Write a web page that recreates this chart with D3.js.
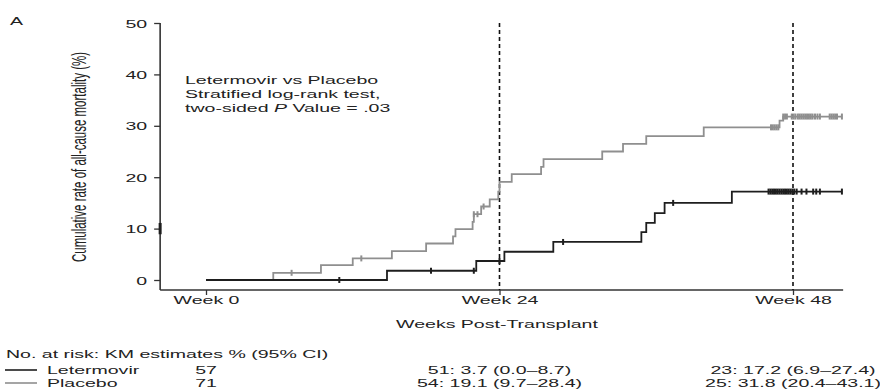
<!DOCTYPE html>
<html>
<head>
<meta charset="utf-8">
<script src="https://cdn.jsdelivr.net/npm/d3@7"></script>
<style>
  body { margin: 0; background: #fff; }
  svg text { font-family: "Liberation Sans", Arial, sans-serif; font-size: 11.5px; fill: #222; }
</style>
</head>
<body>
<div id="chart"></div>
<script>
// KM step data (weeks, cumulative %)
var letTimes  = [0, 14.8, 22.1, 24.4, 28.4, 35.6, 36.0, 36.7, 37.5, 43.0, 52.0]
var letValues = [0, 1.8, 3.7, 5.5, 7.4, 9.3, 11.1, 13.0, 15.0, 17.2, 17.2]
var plaTimes  = [0, 5.5, 9.4, 12.0, 15.2, 18.0, 20.2, 20.4, 21.8, 21.9, 22.5, 23.2, 23.9, 24.0, 25.0, 27.4, 27.6, 32.4, 34.1, 36.0, 40.7, 46.9, 47.2, 52.0]
var plaValues = [0, 1.4, 2.9, 4.2, 5.6, 7.1, 8.5, 9.9, 11.3, 12.8, 14.3, 15.7, 17.2, 19.1, 20.6, 22.0, 23.5, 25.0, 26.5, 28.0, 29.7, 31.0, 31.8, 31.8]
// censor ticks (weeks)
var letCensor = [10.9, 18.4, 21.9, 24.0, 29.2, 38.2,
  46.0, 46.15, 46.3, 46.45, 46.6, 46.75, 46.9, 47.05, 47.2, 47.35, 47.5, 47.65, 47.8, 47.95, 48.1,
  48.3, 48.7, 49.1, 49.65, 49.9, 50.2, 52.0]
var plaCensor = [7.0, 12.7, 21.9, 22.2, 22.7,
  46.2, 46.35, 46.5, 46.65, 46.8,
  47.2, 47.35, 47.5, 47.9, 48.05, 48.2, 48.4, 48.55, 48.7, 48.85, 49.0, 49.15, 49.3, 49.45, 49.6,
  49.8, 50.0, 50.2, 51.0, 51.15, 51.3, 51.45, 51.6, 52.0]

var yTicks = [0, 10, 20, 30, 40, 50]
var xTicks = [0, 24, 48]
var landmarks = [24, 48]

var riskHeader = "No. at risk: KM estimates % (95% CI)"
var groups = ["Letermovir", "Placebo"]
var riskLet = ["57", "51: 3.7 (0.0\u20138.7)", "23: 17.2 (6.9\u201327.4)"]
var riskPla = ["71", "54: 19.1 (9.7\u201328.4)", "25: 31.8 (20.4\u201343.1)"]

var w = 880, h = 389
var SX = 1.7 // the figure is stretched sideways, text too
var darkCol = '#1e1e1e', greyCol = '#8f8f8f', axisCol = '#333'

var x = d3.scaleLinear().domain([0, 48]).range([206, 793])
var y = d3.scaleLinear().domain([0, 50]).range([280, 23])
var axisY = 290
var xLeft = x(-3.75), xRight = x(52.1)

var svg = d3.select('#chart').append('svg').attr('width', w).attr('height', h)

function txt(g, px, py, s, anchor){
  return g.append('text')
    .attr('transform', 'translate(' + px + ',' + py + ') scale(' + SX + ',1)')
    .attr('text-anchor', anchor || 'start')
    .text(s)
}

// panel letter
txt(svg, 10, 25, 'A')

// y axis
var yg = svg.append('g').attr('transform', 'translate(' + xLeft + ',0)')
  .call(d3.axisLeft(y).tickValues(yTicks).tickSize(6).tickSizeOuter(0))
yg.select('.domain').remove()
yg.selectAll('line').attr('stroke', axisCol).attr('stroke-width', 1.3)
yg.selectAll('text')
  .attr('x', -13 / SX).attr('dy', '0.36em')
  .attr('transform', 'scale(' + SX + ',1)')
  .attr('fill', '#222').style('font-size', '11.5px')
  .style('font-family', '"Liberation Sans", Arial, sans-serif')

svg.append('line')
  .attr('x1', xLeft).attr('x2', xLeft).attr('y1', y(50)).attr('y2', axisY)
  .attr('stroke', axisCol).attr('stroke-width', 1.6)
// stray thick mark on the axis at 10%
svg.append('line')
  .attr('x1', xLeft).attr('x2', xLeft).attr('y1', y(11.1)).attr('y2', y(8.9))
  .attr('stroke', darkCol).attr('stroke-width', 3)

// x axis
var xg = svg.append('g').attr('transform', 'translate(0,' + axisY + ')')
  .call(d3.axisBottom(x).tickValues(xTicks).tickSize(5).tickSizeOuter(0)
    .tickFormat(function(d){ return 'Week ' + d }))
xg.select('.domain').remove()
xg.selectAll('line').attr('stroke', axisCol).attr('stroke-width', 1.3)
xg.selectAll('text')
  .attr('y', 14).attr('dy', 0)
  .attr('transform', 'scale(' + SX + ',1)')
  .attr('x', 0)
  .attr('fill', '#222').style('font-size', '11.5px')
  .style('font-family', '"Liberation Sans", Arial, sans-serif')
// scale() on tick text also moves it, so undo for x position
xg.selectAll('.tick').each(function(d){
  d3.select(this).select('text').attr('transform', 'scale(' + SX + ',1)')
})

svg.append('line')
  .attr('x1', xLeft).attr('x2', xRight).attr('y1', axisY).attr('y2', axisY)
  .attr('stroke', axisCol).attr('stroke-width', 1.6)

// dashed landmark lines
svg.selectAll('.landmark')
  .data(landmarks).enter().append('line')
  .attr('class', 'landmark')
  .attr('x1', function(d){ return x(d) }).attr('x2', function(d){ return x(d) })
  .attr('y1', y(50)).attr('y2', axisY)
  .attr('stroke', '#111').attr('stroke-width', 1.6)
  .attr('stroke-dasharray', '4,3')

// axis titles
svg.append('text')
  .attr('transform', 'translate(86,157) scale(' + SX + ',1) rotate(-90)')
  .attr('text-anchor', 'middle')
  .text('Cumulative rate of all-cause mortality (%)')
txt(svg, 497, 328, 'Weeks Post-Transplant', 'middle')

// annotation
var note = svg.append('g')
txt(note, 185, 84, 'Letermovir vs Placebo')
txt(note, 185, 98, 'Stratified log-rank test,')
var t3 = txt(note, 185, 112, 'two-sided ')
t3.append('tspan').style('font-style', 'italic').text('P')
t3.append('tspan').text(' Value = .03')

// curves
function stepPts(times, vals){
  return times.map(function(t, i){ return [t, vals[i]] })
}
function valueAt(times, vals, t){
  var v = vals[0]
  for (var i = 0; i < times.length; i++){ if (times[i] <= t) v = vals[i] }
  return v
}
var line = d3.line()
  .x(function(d){ return x(d[0]) })
  .y(function(d){ return y(d[1]) })
  .curve(d3.curveStepAfter)

var series = [
  {times: plaTimes, vals: plaValues, cens: plaCensor, col: greyCol},
  {times: letTimes, vals: letValues, cens: letCensor, col: darkCol}
]
series.forEach(function(s){
  svg.append('path')
    .attr('d', line(stepPts(s.times, s.vals)))
    .attr('fill', 'none').attr('stroke', s.col).attr('stroke-width', 1.8)
  svg.selectAll(null)
    .data(s.cens).enter().append('line')
    .attr('x1', function(d){ return x(d) }).attr('x2', function(d){ return x(d) })
    .attr('y1', function(d){ return y(valueAt(s.times, s.vals, d)) - 3 })
    .attr('y2', function(d){ return y(valueAt(s.times, s.vals, d)) + 3 })
    .attr('stroke', s.col).attr('stroke-width', 2)
})

// risk table
var tbl = svg.append('g')
txt(tbl, 6, 358, riskHeader)
var rows = [riskLet, riskPla]
var rowY = [374, 387]
var rowCol = [darkCol, greyCol]
rows.forEach(function(r, i){
  tbl.append('line')
    .attr('x1', 5).attr('x2', 37).attr('y1', rowY[i] - 4).attr('y2', rowY[i] - 4)
    .attr('stroke', rowCol[i]).attr('stroke-width', 1.6)
  txt(tbl, 47, rowY[i], groups[i])
  r.forEach(function(s, j){
    txt(tbl, x(xTicks[j]), rowY[i], s, 'middle')
  })
})
</script>
</body>
</html>
